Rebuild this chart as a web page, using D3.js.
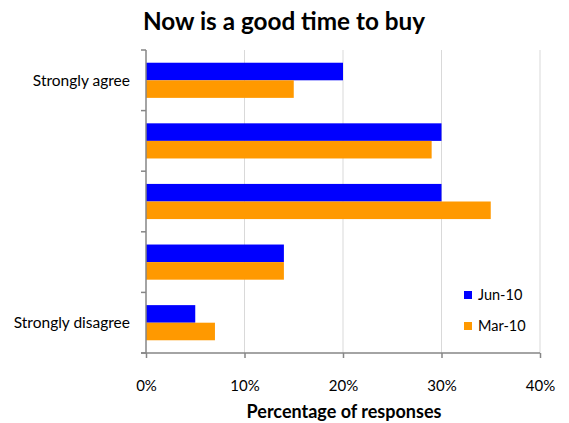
<!DOCTYPE html>
<html>
<head>
<meta charset="utf-8">
<script src="https://cdn.jsdelivr.net/npm/d3@7"></script>
<style>
  body { margin: 0; background: #fff; }
  svg { display: block; font-family: Lato, "Open Sans", sans-serif; }
</style>
</head>
<body>
<svg id="chart" width="569" height="423"></svg>
<script>
// Survey answers, top to bottom
const categories = ["Strongly agree", "Agree", "Neutral", "Disagree", "Strongly disagree"];
const categoryLabels = ["Strongly agree", "", "", "", "Strongly disagree"];
const seriesNames = ["Jun-10", "Mar-10"];
const jun10 = [20, 30, 30, 14, 5];
const mar10 = [15, 29, 35, 14, 7];
const xTicks = [0, 10, 20, 30, 40];
const colors = { "Jun-10": "#0000ff", "Mar-10": "#ff9900" };

const rows = categories.map((c, i) => ({ cat: c, label: categoryLabels[i], "Jun-10": jun10[i], "Mar-10": mar10[i] }));

const svg = d3.select("#chart");
const margin = { left: 146, right: 29, top: 50, bottom: 70 };
const W = 569, H = 423;
const x0 = margin.left, x1 = W - margin.right;
const y0 = margin.top, y1 = H - margin.bottom;

const x = d3.scaleLinear().domain([0, 40]).range([x0, x1]);
const y = d3.scaleBand().domain(categories).range([y0, y1]).paddingInner(0.42).paddingOuter(0.21);
const ySub = d3.scaleBand().domain(seriesNames).range([0, y.bandwidth()]);

// vertical gridlines
svg.append("g").selectAll("line").data(xTicks.slice(1)).join("line")
  .attr("x1", d => x(d)).attr("x2", d => x(d))
  .attr("y1", y0).attr("y2", y1)
  .attr("stroke", "#d9d9d9").attr("stroke-width", 1);

// bars
const groups = svg.append("g").selectAll("g").data(rows).join("g")
  .attr("transform", d => `translate(0,${y(d.cat)})`);
groups.selectAll("rect").data(d => seriesNames.map(s => ({ s, v: d[s] }))).join("rect")
  .attr("x", x(0))
  .attr("y", d => ySub(d.s))
  .attr("width", d => x(d.v) - x(0))
  .attr("height", ySub.bandwidth())
  .attr("fill", d => colors[d.s]);

// x axis
const xAxis = d3.axisBottom(x).tickValues(xTicks).tickFormat(d => d + "%").tickSize(5).tickPadding(22);
const gx = svg.append("g").attr("transform", `translate(0,${y1})`).call(xAxis);
gx.select(".domain").attr("stroke", "#868686").attr("stroke-width", 1.5).attr("d", `M${x0 - 5},0H${x1}`);
gx.selectAll(".tick line").attr("stroke", "#868686").attr("stroke-width", 1.5);
gx.selectAll(".tick text").attr("font-size", 15).attr("fill", "#000").attr("font-family", "Lato, sans-serif");

// y axis: category boundaries ticked, labels at band centres
const bounds = d3.range(categories.length + 1).map(i => y0 + i * (y1 - y0) / categories.length);
svg.append("line").attr("x1", x0).attr("x2", x0).attr("y1", y0).attr("y2", y1)
  .attr("stroke", "#868686").attr("stroke-width", 1.5);
svg.append("g").selectAll("line").data(bounds).join("line")
  .attr("x1", x0 - 5).attr("x2", x0).attr("y1", d => d).attr("y2", d => d)
  .attr("stroke", "#868686").attr("stroke-width", 1.5);
svg.append("g").selectAll("text").data(rows).join("text")
  .attr("x", x0 - 16)
  .attr("y", d => y(d.cat) + y.bandwidth() / 2)
  .attr("dy", "0.35em")
  .attr("text-anchor", "end")
  .attr("font-size", 15.5)
  .text(d => d.label);

// title
svg.append("text").attr("x", 284).attr("y", 30).attr("text-anchor", "middle")
  .attr("font-size", 24.3).attr("font-weight", "bold").text("Now is a good time to buy");

// x axis title
svg.append("text").attr("x", 344).attr("y", 418).attr("text-anchor", "middle")
  .attr("font-size", 18).attr("font-weight", "bold").text("Percentage of responses");

// legend
const legend = svg.append("g").attr("transform", "translate(464,291)");
seriesNames.forEach((s, i) => {
  const g = legend.append("g").attr("transform", `translate(0,${i * 31})`);
  g.append("rect").attr("width", 8).attr("height", 8).attr("fill", colors[s]);
  g.append("text").attr("x", 14).attr("y", 4).attr("dy", "0.35em").attr("font-size", 14.5).text(s);
});
</script>
</body>
</html>
